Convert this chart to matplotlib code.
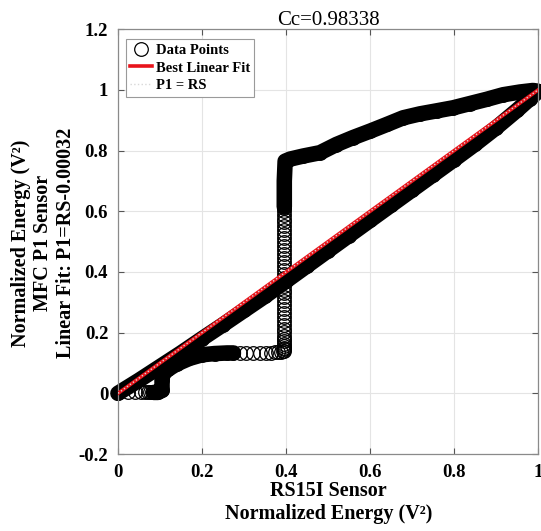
import numpy as np
import matplotlib
matplotlib.use("Agg")
import matplotlib.pyplot as plt

plt.rcParams['font.family'] = ['Liberation Serif', 'DejaVu Serif']

# --- data ---
# lower branch (dense band along the diagonal)
lower_x = [0.0, 0.05, 0.10, 0.15, 0.20, 0.25, 0.30, 0.35, 0.40, 0.45, 0.50,
           0.55, 0.60, 0.65, 0.70, 0.75, 0.80, 0.85, 0.90, 0.95, 0.98, 1.0]
lower_y = [0.0, 0.043, 0.088, 0.133, 0.18, 0.226, 0.273, 0.32, 0.37, 0.42, 0.47,
           0.52, 0.57, 0.62, 0.67, 0.72, 0.77, 0.821, 0.875, 0.933, 0.97, 0.995]

# upper branch, sparse run at y=0
sp0_x = [0.024, 0.04, 0.055, 0.064, 0.071, 0.077, 0.082]
sp0_y = [0.003, 0.003, 0.003, 0.003, 0.003, 0.003, 0.003]

# upper branch, dense step near the origin
up1_x = [0.085, 0.095, 0.105, 0.105, 0.107, 0.12, 0.14, 0.17, 0.20, 0.23, 0.26, 0.275]
up1_y = [0.003, 0.003, 0.01, 0.045, 0.065, 0.08, 0.097, 0.115, 0.127, 0.131, 0.133, 0.133]

# upper branch, sparse run at y~0.13
sp1_x = [0.29, 0.305, 0.321, 0.338, 0.352, 0.364, 0.374, 0.381, 0.388, 0.393, 0.396]
sp1_y = [0.133, 0.133, 0.133, 0.133, 0.133, 0.134, 0.135, 0.136, 0.137, 0.138, 0.14]

# upper branch, sparse vertical run at x~0.396
sp2_y = [0.145, 0.15, 0.156, 0.163, 0.171, 0.18, 0.19, 0.201, 0.213, 0.225, 0.238,
         0.251, 0.264, 0.277, 0.29, 0.303, 0.316, 0.329, 0.342, 0.355, 0.368, 0.381,
         0.394, 0.407, 0.42, 0.433, 0.446, 0.459, 0.472, 0.485, 0.498, 0.511, 0.524,
         0.537, 0.55, 0.563, 0.576, 0.588, 0.6, 0.61]
sp2_x = [0.396] * len(sp2_y)

# upper branch, dense jump top and upper curve
up2_x = [0.396, 0.396, 0.398, 0.41, 0.441, 0.481, 0.52, 0.56, 0.60, 0.64, 0.679,
         0.719, 0.759, 0.798, 0.838, 0.878, 0.917, 0.957, 0.988, 1.0]
up2_y = [0.615, 0.70, 0.765, 0.772, 0.782, 0.793, 0.82, 0.843, 0.864, 0.886, 0.908,
         0.921, 0.931, 0.941, 0.955, 0.969, 0.984, 0.993, 0.998, 0.995]

fit_slope = 1.0
fit_intercept = -0.00032
fit_x = [0.0, 1.0]
ident_x = [0.0, 1.0]

xticks = [0, 0.2, 0.4, 0.6, 0.8, 1.0]
xtick_labels = ['0', '0.2', '0.4', '0.6', '0.8', '1']
yticks = [-0.2, 0, 0.2, 0.4, 0.6, 0.8, 1.0, 1.2]
ytick_labels = ['-0.2', '0', '0.2', '0.4', '0.6', '0.8', '1', '1.2']

fig = plt.figure(figsize=(5.41, 5.31), dpi=100)
ax = fig.add_axes([0.218, 0.145, 0.7765, 0.80])

ms, mew, band = 9.8, 0.9, 11.2
dense = dict(color='k', lw=band, marker='o', ms=ms, mfc='none', mew=mew,
             solid_capstyle='round', solid_joinstyle='round', zorder=2, clip_on=False)
sparse = dict(ls='none', marker='o', ms=ms, mfc='none', mec='k', mew=mew, zorder=2,
              clip_on=False)

ax.plot(lower_x, lower_y, **dense)
ax.plot(up1_x, up1_y, **dense)
ax.plot(up2_x, up2_y, **dense)
ax.plot(sp0_x, sp0_y, label='Data Points', **sparse)
ax.plot(sp1_x, sp1_y, **sparse)
ax.plot(sp2_x, sp2_y, **sparse)

fit_y = [fit_slope * v + fit_intercept for v in fit_x]
ax.plot(fit_x, fit_y, color='#e8141b', lw=2.6, label='Best Linear Fit', zorder=3)
ax.plot(ident_x, ident_x, color='#d8d8d8', lw=1.0, ls=':', label='P1 = RS', zorder=4)

ax.set_xlim(0, 1)
ax.set_ylim(-0.2, 1.2)
ax.set_xticks(xticks)
ax.set_xticklabels(xtick_labels)
ax.set_yticks(yticks)
ax.set_yticklabels(ytick_labels)
ax.tick_params(direction='in', length=4, width=0.8, color='#555555',
               top=True, right=True, labelsize=13.5, pad=7)
for lab in ax.get_xticklabels() + ax.get_yticklabels():
    lab.set_fontweight('bold')
ax.grid(True, color='#e4e4e4', lw=0.8)
ax.set_axisbelow(True)
for s in ax.spines.values():
    s.set_color('#8a8a8a')
    s.set_linewidth(0.9)

ax.set_title('Cc=0.98338', fontsize=15, pad=3)

leg = ax.legend(loc='upper left', bbox_to_anchor=(0.019, 0.976), borderaxespad=0,
                prop={'weight': 'bold', 'size': 10.5}, fancybox=False,
                edgecolor='#9a9a9a', framealpha=1, handlelength=1.5,
                handletextpad=0.25, labelspacing=0.3, borderpad=0.3)
leg.get_frame().set_linewidth(0.8)
leg.set_zorder(5)

fig.text(0.607, 0.053, 'RS15I Sensor\nNormalized Energy (V²)', ha='center', va='center',
         fontsize=14.5, fontweight='bold', linespacing=1.2)
fig.text(0.08, 0.542, 'Normalized Energy (V²)\nMFC P1 Sensor\nLinear Fit: P1=RS-0.00032',
         ha='center', va='center', rotation=90, fontsize=14.5, fontweight='bold',
         linespacing=1.15)

fig.savefig('out.png', dpi=100)
